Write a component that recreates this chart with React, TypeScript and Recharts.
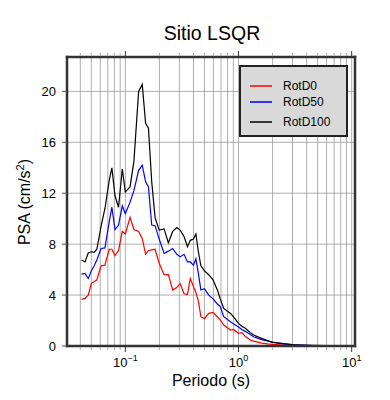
import React from 'react';
import { LineChart, Line, XAxis, YAxis, CartesianGrid, Legend } from 'recharts';

const periods = [0.041, 0.044, 0.047, 0.05, 0.053, 0.056, 0.061, 0.066, 0.072, 0.076, 0.081, 0.087, 0.094, 0.1, 0.11, 0.119, 0.131, 0.141, 0.151, 0.16, 0.171, 0.183, 0.199, 0.22, 0.24, 0.262, 0.285, 0.305, 0.33, 0.354, 0.375, 0.4, 0.42, 0.44, 0.465, 0.5, 0.545, 0.595, 0.65, 0.69, 0.74, 0.85, 0.9, 1.0, 1.07, 1.15, 1.27, 1.36, 1.6, 1.8, 2.0, 2.5, 3.0, 3.5, 4.5, 6, 8, 10];

const rotD0 = [3.66, 3.74, 4.0, 4.9, 5.05, 5.2, 6.3, 6.35, 7.6, 7.6, 7.1, 7.5, 9.0, 8.8, 10.1, 9.15, 9.0, 8.45, 7.2, 7.5, 7.55, 7.6, 6.5, 5.6, 5.6, 4.4, 4.6, 4.9, 4.1, 4.05, 5.3, 4.65, 4.2, 3.6, 2.3, 2.15, 2.56, 2.64, 2.3, 2.04, 1.65, 1.25, 1.3, 1.0, 1.05, 0.75, 0.47, 0.38, 0.22, 0.16, 0.12, 0.08, 0.06, 0.05, 0.03, 0.02, 0.01, 0.01];
const rotD50 = [5.65, 5.7, 5.3, 5.9, 6.3, 6.75, 7.66, 7.7, 9.75, 10.9, 9.15, 9.5, 11.0, 10.4, 11.3, 12.2, 13.8, 14.2, 12.9, 12.5, 9.5, 9.45, 8.4, 7.27, 7.45, 7.66, 7.2, 7.0, 7.2, 6.6, 6.6, 6.35, 6.85, 5.8, 4.4, 4.5, 4.0, 3.7, 3.3, 3.1, 2.3, 1.9, 1.75, 1.5, 1.3, 1.15, 0.9, 0.73, 0.5, 0.39, 0.3, 0.16, 0.1, 0.07, 0.04, 0.03, 0.02, 0.01];
const rotD100 = [6.75, 6.6, 7.3, 7.4, 7.35, 7.6, 9.4, 10.8, 13.0, 14.0, 11.8, 10.9, 13.9, 12.1, 12.5, 14.5, 20.0, 20.55, 17.5, 17.1, 12.9, 10.1, 9.1, 9.2, 8.1, 9.0, 9.3, 9.1, 8.6, 7.8, 8.3, 8.4, 8.8, 7.5, 6.3, 5.9, 5.6, 5.2, 4.4, 3.7, 2.95, 2.56, 2.3, 1.78, 1.55, 1.39, 1.05, 0.86, 0.6, 0.42, 0.29, 0.18, 0.11, 0.08, 0.05, 0.03, 0.02, 0.015];

const seriesNames = ['RotD0', 'RotD50', 'RotD100'];
const xTicks = [0.04, 0.05, 0.06, 0.07, 0.08, 0.09, 0.1, 0.2, 0.3, 0.4, 0.5, 0.6, 0.7, 0.8, 0.9, 1, 2, 3, 4, 5, 6, 7, 8, 9, 10];
const decades = [0.1, 1, 10];
const decadeExp = ['\u22121', '0', '1'];
const yTicks = [0, 4, 8, 12, 16, 20];

const data = periods.map((p, i) => ({ p, r0: rotD0[i], r50: rotD50[i], r100: rotD100[i] }));

const FONT = '"Liberation Sans", Arial, Helvetica, sans-serif';

const isMajor = (v: number) => decades.some((d) => Math.abs(d - v) < 1e-9);

const BottomTick = (props: any) => {
  const { x, y, payload } = props;
  const v = payload.value;
  const major = isMajor(v);
  const k = decades.findIndex((d) => Math.abs(d - v) < 1e-9);
  return (
    <g>
      <line x1={x} x2={x} y1={y + 1} y2={y + (major ? 6 : 4)} stroke={major ? '#333' : '#aaa'} strokeWidth={1} />
      {major && (
        <text x={x} y={y + 21} textAnchor="middle" fontFamily={FONT} fontSize={13} fill="#000">
          <tspan>10</tspan>
          <tspan dy={-6} fontSize={9}>{decadeExp[k]}</tspan>
        </text>
      )}
    </g>
  );
};

const TopTick = (props: any) => {
  const { x, y, payload } = props;
  const major = isMajor(payload.value);
  return <line x1={x} x2={x} y1={y - 1} y2={y - (major ? 6 : 4)} stroke={major ? '#333' : '#aaa'} strokeWidth={1} />;
};

const renderLegend = (props: any) => {
  const items = [...props.payload].sort((a: any, b: any) => seriesNames.indexOf(a.value) - seriesNames.indexOf(b.value));
  const rows = [21, 37, 57];
  return (
    <div style={{ width: 105, height: 68, background: '#d9d9d9', border: '2px solid #222' }}>
      <svg width={105} height={68}>
        {items.map((entry: any, i: number) => (
          <g key={entry.value}>
            <line x1={9} x2={31} y1={rows[i] - 2} y2={rows[i] - 2} stroke={entry.color} strokeWidth={1.5} />
            <text x={42} y={rows[i] + 2} fontFamily={FONT} fontSize={12} fill="#000">{entry.value}</text>
          </g>
        ))}
      </svg>
    </div>
  );
};

const App: React.FC = () => {
  return (
    <div style={{ position: 'absolute', left: 0, top: 0, width: 390, height: 400, background: '#fff' }}>
      <LineChart width={390} height={400} data={data} margin={{ top: 47, right: 25, bottom: 24, left: 27 }}>
        <CartesianGrid stroke="#9a9a9a" strokeWidth={0.8} />
        <XAxis
          dataKey="p"
          type="number"
          scale="log"
          domain={[0.0305, 10.7]}
          allowDataOverflow
          ticks={xTicks}
          interval={0}
          tickSize={0}
          tickMargin={0}
          tickLine={false}
          tick={<BottomTick />}
          height={30}
          axisLine={{ stroke: '#333', strokeWidth: 2.5, strokeLinecap: 'square' }}
          label={{
            content: () => (
              <text x={211} y={386} textAnchor="middle" fontFamily={FONT} fontSize={16} fill="#000">Periodo (s)</text>
            ),
          }}
        />
        <XAxis
          xAxisId="top"
          orientation="top"
          dataKey="p"
          type="number"
          scale="log"
          domain={[0.0305, 10.7]}
          allowDataOverflow
          ticks={xTicks}
          interval={0}
          tickSize={0}
          tickMargin={0}
          tickLine={false}
          tick={<TopTick />}
          height={10}
          axisLine={{ stroke: '#333', strokeWidth: 2.5, strokeLinecap: 'square' }}
          label={{
            content: () => (
              <text x={212} y={40} textAnchor="middle" fontFamily={FONT} fontSize={19.5} fill="#000">Sitio LSQR</text>
            ),
          }}
        />
        <YAxis
          type="number"
          domain={[0, 22.7]}
          allowDataOverflow
          ticks={yTicks}
          interval={0}
          width={40}
          tickSize={5}
          tickMargin={6}
          tickLine={{ stroke: '#555' }}
          tick={{ fontFamily: FONT, fontSize: 13, fill: '#000' }}
          axisLine={{ stroke: '#333', strokeWidth: 2.5, strokeLinecap: 'square' }}
          label={{
            content: () => (
              <text x={30} y={202} transform="rotate(-90 30 202)" textAnchor="middle" fontFamily={FONT} fontSize={16} fill="#000">
                <tspan>PSA (cm/s</tspan>
                <tspan dy={-6} fontSize={11}>2</tspan>
                <tspan dy={6}>)</tspan>
              </text>
            ),
          }}
        />
        <YAxis
          yAxisId="right"
          orientation="right"
          type="number"
          domain={[0, 22.7]}
          allowDataOverflow
          ticks={yTicks}
          interval={0}
          width={10}
          tickSize={5}
          tick={false}
          tickLine={{ stroke: '#555' }}
          axisLine={{ stroke: '#333', strokeWidth: 2.5, strokeLinecap: 'square' }}
        />
        <Legend
          content={renderLegend}
          layout="horizontal"
          verticalAlign="middle"
          align="center"
          wrapperStyle={{ left: 239, top: 65, width: 109, height: 72 }}
        />
        <Line type="linear" dataKey="r0" name="RotD0" stroke="#ff0000" strokeWidth={1.2} dot={false} isAnimationActive={false} />
        <Line type="linear" dataKey="r50" name="RotD50" stroke="#0000ff" strokeWidth={1.2} dot={false} isAnimationActive={false} />
        <Line type="linear" dataKey="r100" name="RotD100" stroke="#000000" strokeWidth={1.2} dot={false} isAnimationActive={false} />
      </LineChart>
    </div>
  );
};

export default App;
